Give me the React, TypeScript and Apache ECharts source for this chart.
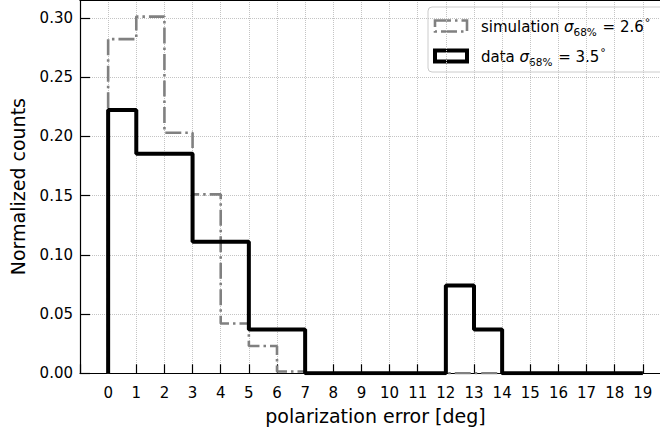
import React, { useEffect, useRef } from "react";
import * as echarts from "echarts";

// bin edges start at 0, width 1
const binStarts = [0, 1, 2, 3, 4, 5, 6, 7, 8, 9, 10, 11, 12, 13, 14, 15, 16, 17, 18];
const simulationValues = [0.282, 0.301, 0.203, 0.151, 0.042, 0.023, 0.0015, 0, 0, 0, 0, 0, 0, 0, 0, 0, 0, 0, 0];
const dataValues = [0.2222, 0.1852, 0.1852, 0.1111, 0.1111, 0.037, 0.037, 0, 0, 0, 0, 0, 0.0741, 0.037, 0, 0, 0, 0, 0];
const yTickLabels = ["0.00", "0.05", "0.10", "0.15", "0.20", "0.25", "0.30"];
const xLabelMin = 0;
const xLabelMax = 19;

const FONT = "DejaVu Sans";

function stepPoints(vals: number[]): number[][] {
  const pts: number[][] = [[binStarts[0], 0]];
  vals.forEach((v, i) => {
    pts.push([binStarts[i], v]);
    pts.push([binStarts[i] + 1, v]);
  });
  pts.push([binStarts[binStarts.length - 1] + 1, 0]);
  return pts;
}

export default function App() {
  const ref = useRef<HTMLDivElement>(null);
  useEffect(() => {
    if (!ref.current) return;
    document.documentElement.style.overflow = "hidden";
    document.body.style.overflow = "hidden";
    document.body.style.margin = "0";
    const chart = echarts.init(ref.current, undefined, { renderer: "svg" });
    const legendTextRich = {
      t: { fontFamily: FONT, fontSize: 15, color: "#000", verticalAlign: "bottom", lineHeight: 22, padding: [0, 0, 3, 0] },
      i: { fontFamily: FONT, fontSize: 15, fontStyle: "italic", color: "#000", verticalAlign: "bottom", lineHeight: 22, padding: [0, 0, 3, 0] },
      s: { fontFamily: FONT, fontSize: 10.5, color: "#000", verticalAlign: "bottom", lineHeight: 22, padding: [0, 1, 0, 0] },
      d: { fontFamily: FONT, fontSize: 11, color: "#000", verticalAlign: "bottom", lineHeight: 22, padding: [0, 0, 9, 1] },
    };
    chart.setOption({
      animation: false,
      backgroundColor: "#fff",
      grid: {
        left: 80,
        top: 0,
        width: 591,
        height: 373.3,
        show: false,
        containLabel: false,
        outerBoundsMode: "none",
      },
      xAxis: [
        {
          type: "value",
          min: -1,
          max: 20,
          interval: 1,
          name: "polarization error [deg]",
          nameLocation: "middle",
          nameGap: 33,
          nameTextStyle: { fontFamily: FONT, fontSize: 19, color: "#000" },
          axisLine: { show: true, onZero: false, lineStyle: { color: "#000", width: 1.2 } },
          axisTick: { show: true, inside: true, length: 9, lineStyle: { color: "#000", width: 1.2 } },
          axisLabel: {
            fontFamily: FONT,
            fontSize: 15,
            color: "#000",
            margin: 12,
            formatter: (v: number) => (v < xLabelMin || v > xLabelMax ? "" : String(v)),
          },
          splitLine: { show: true, lineStyle: { color: "#c4c4c4", type: "dotted", width: 1 } },
        },
        {
          type: "value",
          position: "top",
          min: -1,
          max: 20,
          interval: 1,
          axisLine: { show: true, onZero: false, lineStyle: { color: "#000", width: 1.2 } },
          axisTick: { show: false },
          axisLabel: { show: false },
          splitLine: { show: false },
        },
      ],
      yAxis: {
        type: "value",
        min: 0,
        max: 0.315,
        interval: 0.05,
        name: "Normalized counts",
        nameLocation: "middle",
        nameGap: 53,
        nameTextStyle: { fontFamily: FONT, fontSize: 19, color: "#000" },
        axisLine: { show: true, onZero: false, lineStyle: { color: "#000", width: 1.2 } },
        axisTick: { show: true, inside: true, length: 10, lineStyle: { color: "#000", width: 1.2 } },
        axisLabel: {
          fontFamily: FONT,
          fontSize: 15,
          color: "#000",
          margin: 7,
          showMaxLabel: false,
          formatter: (v: number) => {
            const idx = Math.round(v / 0.05);
            return Math.abs(idx * 0.05 - v) < 1e-6 && idx < yTickLabels.length ? yTickLabels[idx] : "";
          },
        },
        splitLine: { show: true, lineStyle: { color: "#c4c4c4", type: "dotted", width: 1 } },
      },
      series: [
        {
          name: "simulation",
          type: "line",
          xAxisIndex: 0,
          data: stepPoints(simulationValues),
          showSymbol: false,
          symbol: "none",
          lineStyle: { color: "#808080", width: 2.6, type: [16, 4, 2.5, 4] },
          z: 2,
        },
        {
          name: "data",
          type: "line",
          xAxisIndex: 0,
          data: stepPoints(dataValues),
          showSymbol: false,
          symbol: "none",
          lineStyle: { color: "#000", width: 4 },
          z: 3,
        },
      ],
      graphic: [
        {
          type: "group",
          z: 100,
          children: [
            {
              type: "rect",
              shape: { x: 652, y: 1.5, width: 10, height: 370.5 },
              style: { fill: "#fff", stroke: "none" },
            },
            {
              type: "rect",
              shape: { x: 428, y: 7, width: 260, height: 65, r: 4 },
              style: { fill: "rgba(255,255,255,0.85)", stroke: "#cccccc", lineWidth: 1 },
            },
            {
              type: "rect",
              shape: { x: 435, y: 20.5, width: 32, height: 11 },
              style: { fill: "none", stroke: "#808080", lineWidth: 2.6, lineDash: [16, 4, 2.5, 4] },
            },
            {
              type: "rect",
              shape: { x: 435, y: 50.5, width: 32, height: 11 },
              style: { fill: "none", stroke: "#000", lineWidth: 4 },
            },
            {
              type: "text",
              x: 481,
              y: 15,
              style: {
                text: "{t|simulation }{i|σ}{s|68%}{t| = 2.6}{d|°}",
                rich: legendTextRich,
              },
            },
            {
              type: "text",
              x: 481,
              y: 45,
              style: {
                text: "{t|data }{i|σ}{s|68%}{t| = 3.5}{d|°}",
                rich: legendTextRich,
              },
            },
          ],
        },
      ],
    });
    return () => chart.dispose();
  }, []);
  return (
    <div
      ref={ref}
      style={{ position: "fixed", left: 0, top: 0, width: 660, height: 435, overflow: "hidden" }}
    />
  );
}
